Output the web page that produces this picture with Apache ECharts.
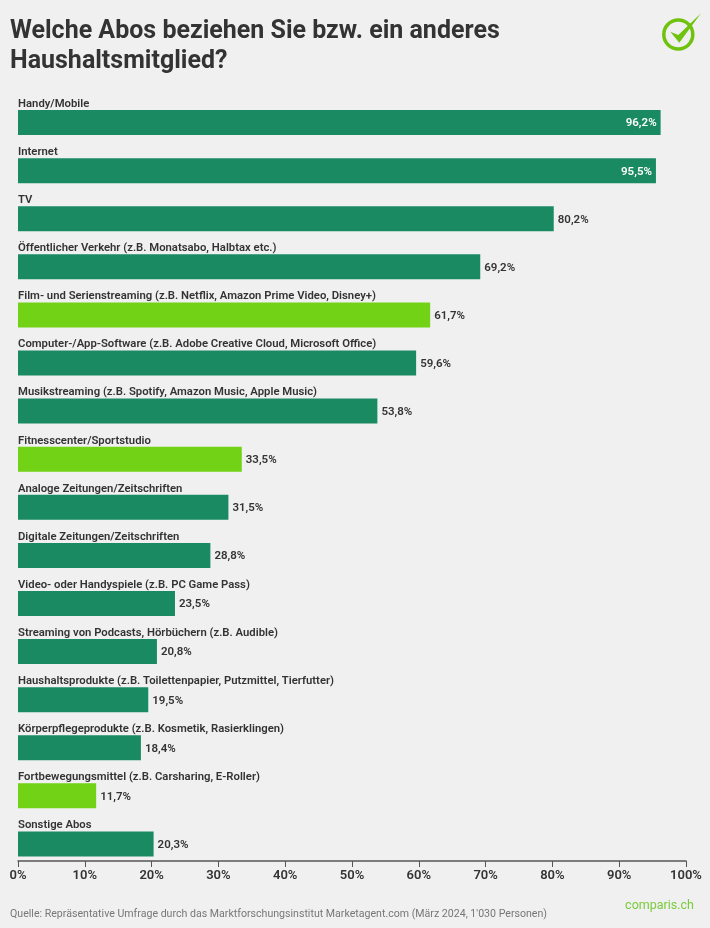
<!DOCTYPE html>
<html>
<head>
<meta charset="utf-8">
<style>
html, body { margin: 0; padding: 0; background: #f0f0f0; }
#main { width: 710px; height: 928px; }
</style>
<script src="https://cdn.jsdelivr.net/npm/echarts@6/dist/echarts.min.js"></script>
</head>
<body>
<div id="main"></div>
<script>
var categories = [
	'Handy/Mobile',
	'Internet',
	'TV',
	'Öffentlicher Verkehr (z.B. Monatsabo, Halbtax etc.)',
	'Film- und Serienstreaming (z.B. Netflix, Amazon Prime Video, Disney+)',
	'Computer-/App-Software (z.B. Adobe Creative Cloud, Microsoft Office)',
	'Musikstreaming (z.B. Spotify, Amazon Music, Apple Music)',
	'Fitnesscenter/Sportstudio',
	'Analoge Zeitungen/Zeitschriften',
	'Digitale Zeitungen/Zeitschriften',
	'Video- oder Handyspiele (z.B. PC Game Pass)',
	'Streaming von Podcasts, Hörbüchern (z.B. Audible)',
	'Haushaltsprodukte (z.B. Toilettenpapier, Putzmittel, Tierfutter)',
	'Körperpflegeprodukte (z.B. Kosmetik, Rasierklingen)',
	'Fortbewegungsmittel (z.B. Carsharing, E-Roller)',
	'Sonstige Abos'
];
var values = [96.2, 95.5, 80.2, 69.2, 61.7, 59.6, 53.8, 33.5, 31.5, 28.8, 23.5, 20.8, 19.5, 18.4, 11.7, 20.3];
// hervorgehobene Balken
var highlighted = ['Film- und Serienstreaming (z.B. Netflix, Amazon Prime Video, Disney+)', 'Fitnesscenter/Sportstudio', 'Fortbewegungsmittel (z.B. Carsharing, E-Roller)'];
var insideLabels = ['Handy/Mobile', 'Internet'];

var titleText = 'Welche Abos beziehen Sie bzw. ein anderes\nHaushaltsmitglied?';
var sourceText = "Quelle: Repräsentative Umfrage durch das Marktforschungsinstitut Marketagent.com (März 2024, 1'030 Personen)";

var font = 'Roboto';
var green = '#1a8a63';
var lime = '#72d215';

function fmt(v) {
	return v.toFixed(1).replace('.', ',') + '%';
}

var barData = values.map(function (v, i) {
	var inside = insideLabels.indexOf(categories[i]) >= 0;
	return {
		value: v,
		itemStyle: { color: highlighted.indexOf(categories[i]) >= 0 ? lime : green },
		label: inside ? { position: 'insideRight', color: '#fff', distance: 4 } : { position: 'right', color: '#333', distance: 4 }
	};
});

var option = {
	backgroundColor: '#f0f0f0',
	animation: false,
	textStyle: { fontFamily: font },
	title: {
		text: titleText,
		left: 10,
		top: 17,
		padding: 0,
		textStyle: { fontFamily: font, fontSize: 25, fontWeight: 'bold', color: '#333', lineHeight: 30 }
	},
	grid: { left: 18, right: 24, top: 98.5, bottom: 60, containLabel: false },
	xAxis: {
		type: 'value',
		min: 0,
		max: 100,
		interval: 10,
		offset: -7,
		splitLine: { show: false },
		axisLine: { show: true, lineStyle: { color: '#555', width: 1.5 } },
		axisTick: { show: true, length: 6, lineStyle: { color: '#555', width: 1 } },
		axisLabel: {
			margin: 8,
			fontFamily: font,
			fontSize: 13,
			fontWeight: 600,
			color: '#333',
			formatter: '{value}%'
		}
	},
	yAxis: {
		type: 'category',
		inverse: true,
		data: categories,
		axisLine: { show: false },
		axisTick: { show: false },
		axisLabel: {
			inside: true,
			margin: 0,
			align: 'left',
			verticalAlign: 'bottom',
			lineHeight: 37,
			interval: 0,
			fontFamily: font,
			fontSize: 11.3,
			fontWeight: 600,
			color: '#333'
		}
	},
	series: [{
		type: 'bar',
		data: barData,
		barWidth: 25,
		z: 1,
		label: {
			show: true,
			fontFamily: font,
			fontSize: 11.5,
			fontWeight: 600,
			offset: [0, 1],
			formatter: function (p) { return fmt(p.value); }
		}
	}],
	graphic: [
		{
			type: 'text',
			left: 10,
			top: 909,
			style: { text: sourceText, fontFamily: font, fontSize: 10.6, fill: '#777' }
		},
		{
			type: 'text',
			right: 16,
			top: 899,
			style: { text: 'comparis.ch', fontFamily: font, fontSize: 12.5, fill: '#79cc3c' }
		},
		{
			type: 'circle',
			shape: { cx: 678.3, cy: 34.5, r: 14.5 },
			style: { fill: 'none', stroke: '#6fc30f', lineWidth: 3.5 }
		},
		{
			type: 'polygon',
			shape: { points: [[670.3, 31.7], [678.3, 35], [701, 13.3], [679.3, 42.7]] },
			style: { fill: '#6fc30f' }
		}
	]
};

var myChart = echarts.init(document.getElementById('main'));
myChart.setOption(option);
</script>
</body>
</html>
